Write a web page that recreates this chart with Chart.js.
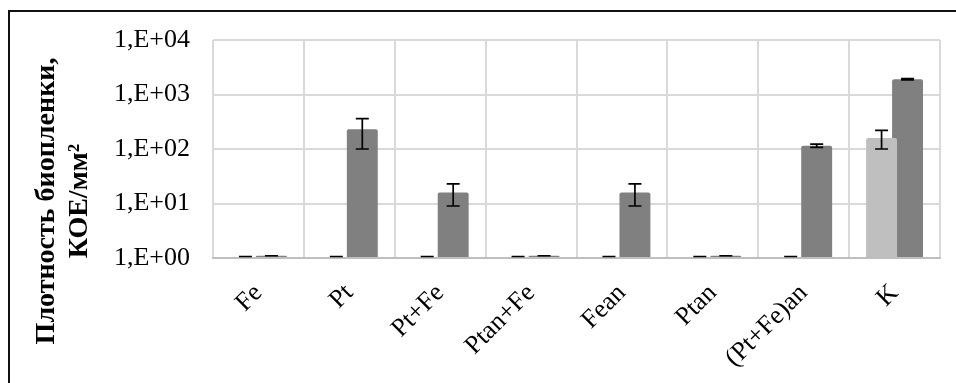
<!DOCTYPE html>
<html>
<head>
<meta charset="utf-8">
<script src="https://cdn.jsdelivr.net/npm/chart.js@4/dist/chart.umd.min.js"></script>
<style>
  html, body { margin: 0; padding: 0; background: #fff; overflow: hidden; }
  #wrap { position: relative; width: 956px; height: 383px; }
  #frame { position: absolute; left: 8px; top: 10px; width: 2000px; height: 1000px;
           border-left: 2px solid #111; border-top: 2px solid #111; pointer-events: none; }
  canvas { position: absolute; left: 0; top: 0; }
</style>
</head>
<body>
<div id="wrap">
  <canvas id="c" width="956" height="383"></canvas>
  <div id="frame"></div>
</div>
<script>
const categories = ['Fe', 'Pt', 'Pt+Fe', 'Ptan+Fe', 'Fean', 'Ptan', '(Pt+Fe)an', 'K'];
const series1 = [1, 1, 1, 1, 1, 1, 1, 160];
const series1Err = [0, 0, 0, 0, 0, 0, 0, 60];
const series2 = [1.1, 230, 16, 1.1, 16, 1.1, 115, 1900];
const series2Err = [0, 130, 7, 0, 7, 0, 8, 50];
const yTickValues = [1, 10, 100, 1000, 10000];
const yTickLabels = ['1,E+00', '1,E+01', '1,E+02', '1,E+03', '1,E+04'];
const yTitleLines = ['Плотность биопленки,', 'КОЕ/мм²'];

const SERIF = "'Times New Roman', 'Liberation Serif', serif";
const errors = [series1Err, series2Err];

const errorBarPlugin = {
  id: 'errorBars',
  afterDraw(chart) {
    const ctx = chart.ctx;
    const yScale = chart.scales.y;
    ctx.save();
    ctx.strokeStyle = '#000';
    ctx.lineWidth = 1.7;
    chart.data.datasets.forEach((ds, di) => {
      const meta = chart.getDatasetMeta(di);
      meta.data.forEach((bar, i) => {
        const v = ds.data[i];
        const e = errors[di][i];
        const lo = Math.max(v - e, yScale.min);
        let yTop = yScale.getPixelForValue(v + e);
        let yBot = yScale.getPixelForValue(lo);
        if (e === 0) { yTop = Math.min(yTop, yScale.bottom - 1.5); yBot = yTop; }
        const x = bar.x;
        const hw = 6.5;
        ctx.beginPath();
        ctx.moveTo(x, yTop); ctx.lineTo(x, yBot);
        ctx.moveTo(x - hw, yTop); ctx.lineTo(x + hw, yTop);
        ctx.moveTo(x - hw, yBot); ctx.lineTo(x + hw, yBot);
        ctx.stroke();
      });
    });
    ctx.restore();
  }
};

const yTitlePlugin = {
  id: 'yTitle',
  afterDraw(chart) {
    const ctx = chart.ctx;
    ctx.save();
    ctx.fillStyle = '#000';
    ctx.font = "bold 28px " + SERIF;
    ctx.textAlign = 'center';
    ctx.textBaseline = 'alphabetic';
    const cy = 201;
    const baselines = [54, 87];
    yTitleLines.forEach((t, k) => {
      ctx.save();
      ctx.translate(baselines[k], cy);
      ctx.rotate(-Math.PI / 2);
      ctx.fillText(t, 0, 0);
      ctx.restore();
    });
    ctx.restore();
  }
};

new Chart(document.getElementById('c'), {
  type: 'bar',
  data: {
    labels: categories,
    datasets: [
      { data: series1, backgroundColor: '#bfbfbf', borderWidth: 0, borderRadius: 2,
        categoryPercentage: 0.572, barPercentage: 1.19 },
      { data: series2, backgroundColor: '#808080', borderWidth: 0, borderRadius: 2,
        categoryPercentage: 0.572, barPercentage: 1.19 }
    ]
  },
  options: {
    responsive: false,
    devicePixelRatio: 1,
    animation: false,
    layout: { padding: { top: 40, right: 16, left: 0, bottom: 0 } },
    plugins: { legend: { display: false }, tooltip: { enabled: false } },
    scales: {
      x: {
        grid: { color: '#d9d9d9', lineWidth: 2, drawTicks: false, offset: true },
        border: { display: true, color: '#bfbfbf', width: 2, z: 1 },
        ticks: { color: '#000', font: { family: SERIF, size: 26 }, maxRotation: 45, minRotation: 45,
                 autoSkip: false, padding: 20 },
        afterFit(s) { s.height = 125; }
      },
      y: {
        type: 'logarithmic',
        min: 1, max: 10000,
        grid: { color: '#d9d9d9', lineWidth: 2, drawTicks: false },
        border: { display: false },
        afterBuildTicks(s) { s.ticks = yTickValues.map(v => ({ value: v })); },
        ticks: { color: '#000', font: { family: SERIF, size: 26 }, padding: 23,
                 callback(v) { const i = yTickValues.indexOf(v); return i >= 0 ? yTickLabels[i] : ''; } },
        afterFit(s) { s.width = 213; }
      }
    }
  },
  plugins: [errorBarPlugin, yTitlePlugin]
});
</script>
</body>
</html>
